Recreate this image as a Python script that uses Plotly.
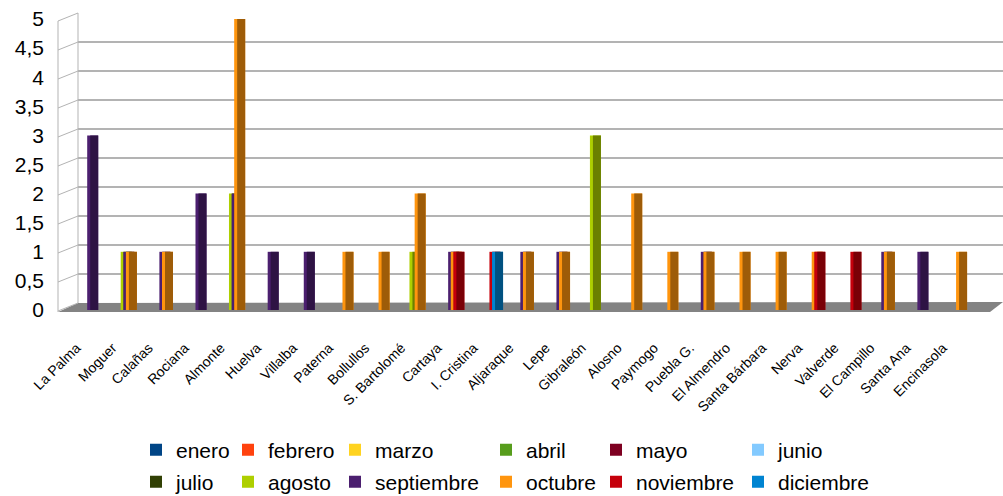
import plotly.graph_objects as go

# ---------------- data ----------------
categories = ["La Palma", "Moguer", "Calañas", "Rociana", "Almonte", "Huelva", "Villalba",
              "Paterna", "Bollullos", "S. Bartolomé", "Cartaya", "I. Cristina", "Aljaraque",
              "Lepe", "Gibraleón", "Alosno", "Paymogo", "Puebla G.", "El Almendro",
              "Santa Bárbara", "Nerva", "Valverde", "El Campillo", "Santa Ana", "Encinasola"]

months = ["enero", "febrero", "marzo", "abril", "mayo", "junio",
          "julio", "agosto", "septiembre", "octubre", "noviembre", "diciembre"]

enero      = [0]*25
febrero    = [0]*25
marzo      = [0]*25
abril      = [0]*25
mayo       = [0]*25
junio      = [0]*25
julio      = [0]*25
agosto     = [0, 1, 0, 0, 2, 0, 0, 0, 0, 1, 0, 0, 0, 0, 3, 0, 0, 0, 0, 0, 0, 0, 0, 0, 0]
septiembre = [3, 1, 1, 2, 2, 1, 1, 0, 0, 0, 1, 0, 1, 1, 0, 0, 0, 1, 0, 0, 0, 0, 1, 1, 0]
octubre    = [0, 1, 1, 0, 5, 0, 0, 1, 1, 2, 1, 0, 1, 1, 0, 2, 1, 1, 1, 1, 1, 0, 1, 0, 1]
noviembre  = [0, 0, 0, 0, 0, 0, 0, 0, 0, 0, 1, 1, 0, 0, 0, 0, 0, 0, 0, 0, 1, 1, 0, 0, 0]
diciembre  = [0, 0, 0, 0, 0, 0, 0, 0, 0, 0, 0, 1, 0, 0, 0, 0, 0, 0, 0, 0, 0, 0, 0, 0, 0]

series = [enero, febrero, marzo, abril, mayo, junio, julio, agosto,
          septiembre, octubre, noviembre, diciembre]

colors = ["#004586", "#ff420e", "#ffd320", "#579d1c", "#7e0021", "#83caff",
          "#314004", "#aecf00", "#4b1f6f", "#ff950e", "#c5000b", "#0084d1"]

y_ticks = [0, 0.5, 1, 1.5, 2, 2.5, 3, 3.5, 4, 4.5, 5]

# ---------------- layout helpers ----------------
W, H = 1003, 496
def fx(p): return p / W
def fy(p): return 1 - p / H

def shade(hexcol, f=0.62):
    h = hexcol.lstrip("#")
    r, g, b = (int(h[i:i+2], 16) for i in (0, 2, 4))
    return "#%02x%02x%02x" % (int(r*f), int(g*f), int(b*f))

fig = go.Figure()

# invisible trace to create grid subplot
fig.add_trace(go.Scatter(x=[categories[0]], y=[None], xaxis="x", yaxis="y",
                         showlegend=False, hoverinfo="skip"))

STEP = 0.072
FULL_W = 0.305
SIDE_W = 0.083
legend_x = [136, 228, 335, 486, 596, 738]
legend_y = [450, 482]

for k, (name, vals, col) in enumerate(zip(months, series, colors)):
    left = (k - 9) * STEP - 0.13
    yv = [v if v else None for v in vals]
    lg = "legend" if k == 0 else f"legend{k+1}"
    fig.add_trace(go.Bar(x=categories, y=yv, name=name, xaxis="x", yaxis="y2",
                         width=FULL_W, offset=left,
                         marker=dict(color=col, line=dict(width=0)),
                         legend=lg, showlegend=True))
    fig.add_trace(go.Bar(x=categories, y=yv, name=name, xaxis="x", yaxis="y2",
                         width=FULL_W - SIDE_W, offset=left + SIDE_W,
                         marker=dict(color=shade(col), line=dict(width=0)),
                         showlegend=False))
    row, c = divmod(k, 6)
    fig.update_layout({lg: dict(x=fx(legend_x[c]), y=fy(legend_y[row]),
                                xanchor="left", yanchor="middle",
                                bgcolor="rgba(0,0,0,0)", borderwidth=0,
                                font=dict(size=21, color="black"))})

shapes = []
grid = "#b3b3b3"
# floor
shapes.append(dict(type="path", xref="paper", yref="paper", layer="below",
                   path=f"M {fx(58)},{fy(312)} L {fx(78)},{fy(303)} L {fx(1003)},{fy(302)} L {fx(990)},{fy(312)} Z",
                   fillcolor="#838383", line=dict(width=0)))
# left wall
for v in y_ticks:
    yb = 303 - v * 58
    shapes.append(dict(type="line", xref="paper", yref="paper", layer="below",
                       x0=fx(58), y0=fy(yb + 8), x1=fx(78), y1=fy(yb),
                       line=dict(color=grid, width=1)))
shapes.append(dict(type="line", xref="paper", yref="paper", layer="below",
                   x0=fx(58), y0=fy(21), x1=fx(58), y1=fy(312), line=dict(color=grid, width=1)))
shapes.append(dict(type="line", xref="paper", yref="paper", layer="below",
                   x0=fx(78), y0=fy(13), x1=fx(78), y1=fy(303), line=dict(color=grid, width=1)))

fig.update_layout(
    width=W, height=H, margin=dict(l=0, r=0, t=0, b=0, autoexpand=False),
    template="none",
    paper_bgcolor="white", plot_bgcolor="rgba(0,0,0,0)",
    separators=",.", barmode="overlay",
    font=dict(family="Liberation Sans, Arial, sans-serif", color="black"),
    shapes=shapes,
    xaxis=dict(type="category", domain=[fx(78), 1], range=[-0.457, 25.17],
               anchor="y2", tickangle=-45, tickfont=dict(size=14),
               ticklabelstandoff=26, ticklabelshift=-18,
               showgrid=False, showline=False, zeroline=False, ticks="",
               automargin=False),
    yaxis=dict(domain=[fy(303), fy(13)], range=[0, 5], dtick=0.5, anchor="x",
               showgrid=True, gridcolor=grid, gridwidth=1.5, zeroline=False,
               showticklabels=False, showline=False, ticks="", automargin=False),
    yaxis2=dict(domain=[fy(310), fy(19)], range=[0, 5], dtick=0.5, anchor="x",
                showgrid=False, zeroline=False, showline=False, ticks="",
                tickfont=dict(size=21), ticklabelstandoff=33, automargin=False),
)

fig.write_html("out.html", config={"displayModeBar": False},
               post_script="document.body.style.margin='0';document.body.style.overflow='hidden';")
